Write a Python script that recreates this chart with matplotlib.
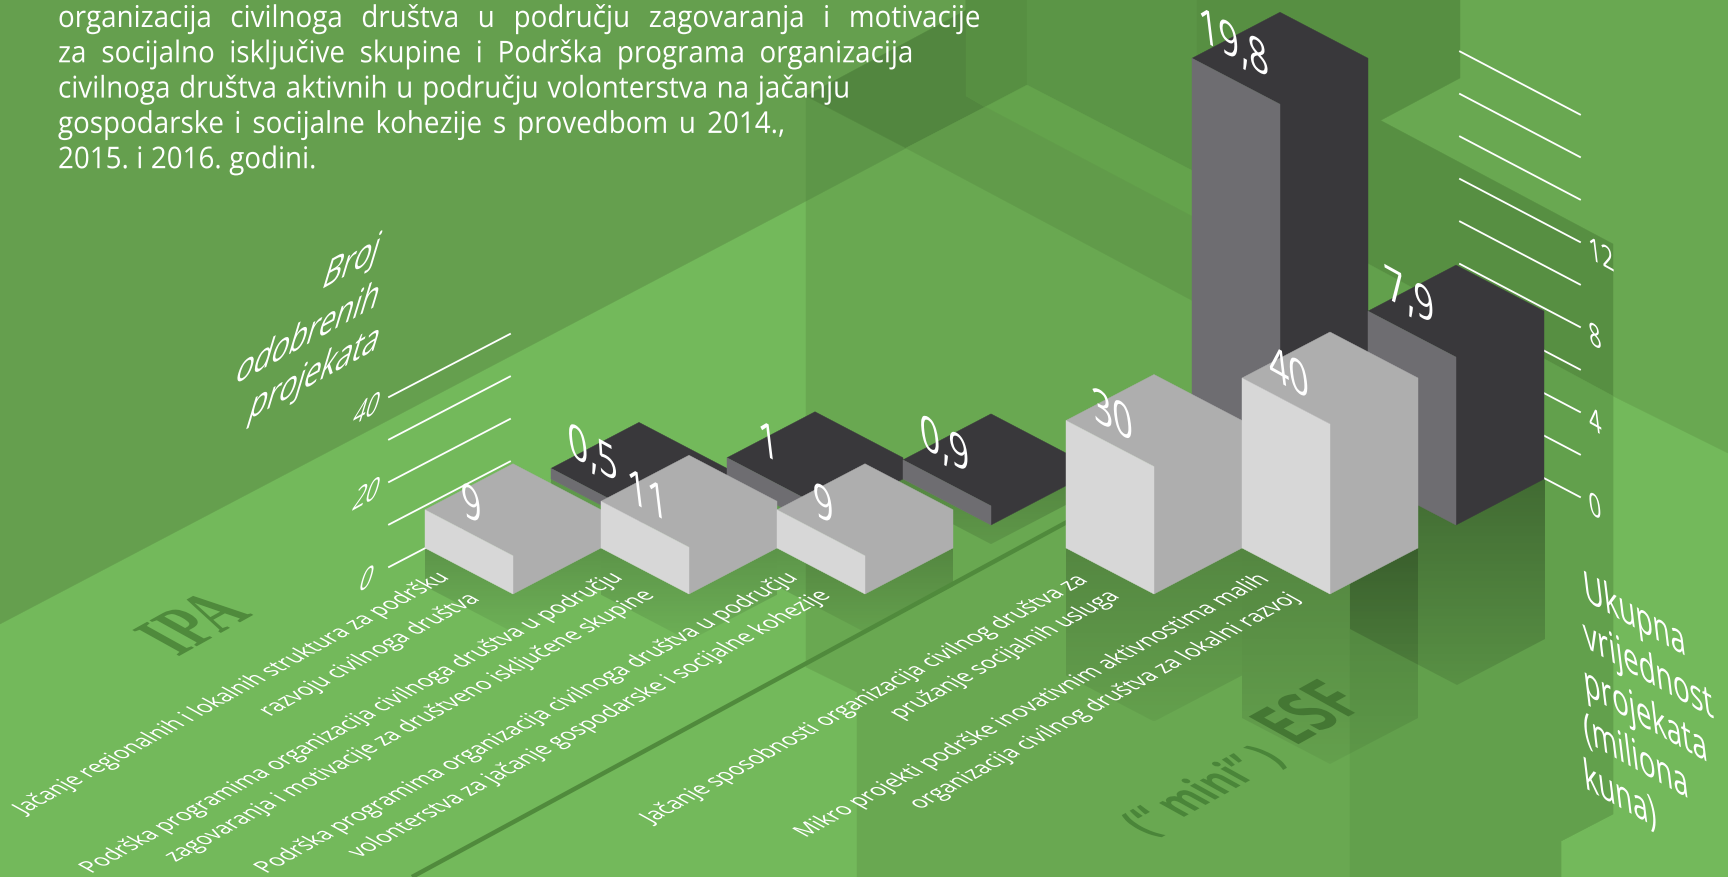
import numpy as np
import matplotlib
matplotlib.use("Agg")
import matplotlib.pyplot as plt
from matplotlib.patches import Polygon
from matplotlib.patheffects import AbstractPathEffect
from matplotlib.transforms import Affine2D

# data
programi = ["IPA 1", "IPA 2", "IPA 3", "ESF 1", "ESF 2"]
broj_projekata = [9, 11, 9, 30, 40]
vrijednost = [0.5, 1, 0.9, 19.8, 7.9]
broj_labele = ["9", "11", "9", "30", "40"]
vrijednost_labele = ["0,5", "1", "0,9", "19,8", "7,9"]
broj_ticks = [0, 10, 20, 30, 40]
broj_ticklabels = ["0", "", "20", "", "40"]
vrijednost_ticks = [0, 2, 4, 6, 8, 10, 12, 14, 16, 18]
vrijednost_ticklabels = ["0", "", "4", "", "8", "", "12", "", "", ""]

uvod = [
    "organizacija civilnoga društva u području zagovaranja i motivacije",
    "za socijalno isključive skupine i Podrška programa organizacija",
    "civilnoga društva aktivnih u području volonterstva na jačanju",
    "gospodarske i socijalne kohezije s provedbom u 2014.,",
    "2015. i 2016. godini.",
]
uvod_kraj = [980, 913, 850, 785, 316]

opisi = [
    ("Jačanje regionalnih i lokalnih struktura za podršku", 232, 694),
    ("razvoju civilnoga društva", 370, 656),
    ("Podrška programima organizacija civilnoga društva u području", 352, 724),
    ("zagovaranja i motivacije za društveno isključene skupine", 410, 727),
    ("Podrška programima organizacija civilnoga društva u području", 527, 724),
    ("volonterstva za jačanje gospodarske i socijalne kohezije", 590, 725),
    ("Jačanje sposobnosti organizacija civilnog društva za", 865, 700),
    ("pružanje socijalnih usluga", 1005, 656),
    ("Mikro projekti podrške inovativnim aktivnostima malih", 1032, 707),
    ("organizacija civilnog društva za lokalni razvoj", 1105, 702),
]

FONT = "Open Sans"
BASE = "#73b95b"
W, H = 1728, 878

# scale of the drawing, pixels per unit
PX_PROJEKT = 4.25
PX_KUNA = 21.25
SLOPE_W, SLOPE_H = 88, 46


class Skew(AbstractPathEffect):
    # bends a rotated text so that it lies on a face of the isometric box
    def __init__(self, angle, u, v, anchor):
        super().__init__()
        a = np.radians(angle)
        rot_inv = np.array([[np.cos(a), np.sin(a)], [-np.sin(a), np.cos(a)]])
        self.L = np.column_stack([u, v]) @ rot_inv
        self.anchor = anchor

    def draw_path(self, renderer, gc, tpath, affine, rgbFace=None):
        m = affine.get_matrix()
        p = ax.transData.transform(self.anchor)
        new = np.eye(3)
        new[:2, :2] = self.L @ m[:2, :2]
        new[:2, 2] = p + self.L @ (m[:2, 2] - p)
        renderer.draw_path(gc, tpath, Affine2D(new), rgbFace)


ANG = 29
c, s = np.cos(np.radians(ANG)), np.sin(np.radians(ANG))
FLOOR = ((c, s), (-c, s))
LEFT_WALL = ((c, s), (0.3, 1))
RIGHT_WALL = ((c, -s), (-0.12, 1))
FLAT = ((1, 0), (0, 1))


def iso_text(x, y, txt, face, sv=1.0, **kw):
    u, v = face
    v = (v[0] * sv, v[1] * sv)
    angle = np.degrees(np.arctan2(u[1], u[0]))
    t = ax.text(x, y, txt, rotation=angle, rotation_mode="anchor", **kw)
    t.set_path_effects([Skew(angle, u, v, (x, y))])
    return t


def poly(points, color, z=1):
    ax.add_patch(Polygon(points, closed=True, fc=color, ec=color, lw=0.3, zorder=z))


def shadow(points, a_top, a_bot, z=2):
    pts = np.array(points, dtype=float)
    x0, x1, y0, y1 = pts[:, 0].min(), pts[:, 0].max(), pts[:, 1].min(), pts[:, 1].max()
    img = np.zeros((64, 2, 4))
    img[:, :, 3] = np.linspace(a_top, a_bot, 64)[:, None]
    im = ax.imshow(img, extent=(x0, x1, y1, y0), aspect="auto", zorder=z, interpolation="bilinear")
    im.set_clip_path(Polygon(pts, closed=True, transform=ax.transData))


def box(x, base, h, c_left, c_top, z):
    # top and right face have one colour, so they are one shape
    w, d = SLOPE_W, SLOPE_H
    poly([(x, base - h), (x + w, base - h - d), (x + 2 * w, base - h), (x + 2 * w, base),
          (x + w, base + d), (x + w, base - h + d)], c_top, z)
    poly([(x, base - h), (x + w, base - h + d), (x + w, base + d), (x, base)], c_left, z)


def box_shadow(x, base, h, a_top, a_bot):
    w, d = SLOPE_W, SLOPE_H
    shadow([(x, base), (x + w, base + d), (x + 2 * w, base), (x + 2 * w, base + h),
            (x + w, base + d + h), (x, base + h)], a_top, a_bot)


fig = plt.figure(figsize=(W / 100, H / 100), dpi=100, facecolor=BASE)
ax = fig.add_axes([0, 0, 1, 1])
ax.axis("off")

# background planes
poly([(806, 0), (W, 0), (W, 454), (1613, 397), (1613, 815), (1561, 842), (1561, H),
      (857, H), (857, 693), (806, 668)], "#69a851")
poly([(0, 0), (806, 0), (806, 202), (0, 625)], "#659f4e")
poly([(806, 0), (987, 0), (806, 97)], "#659f4e")
poly([(806, 97), (906, 149), (806, 202)], "#5d9648")
poly([(806, 97), (987, 0), (966, 0), (966, 97), (985, 108), (906, 149)], "#52863f")
poly([(966, 0), (1027, 0), (1027, 86), (985, 108), (966, 97)], "#578f42")
poly([(987, 0), (1027, 0), (1027, 86), (985, 108)], "#578f42")
poly([(1027, 0), (1197, 0), (1197, 174), (1027, 86)], "#5b9546")
poly([(1197, 0), (1460, 0), (1460, 79), (1280, 175), (1197, 174)], "#578f42")
poly([(1027, 86), (1197, 174), (1197, 220), (985, 108)], "#64a34c")
poly([(906, 149), (1197, 304), (1197, 220), (985, 108)], "#619b4a")
poly([(1280, 68), (1613, 245), (1613, 397), (1280, 218)], "#578f42")
poly([(1350, 255), (1613, 397), (1613, 815), (1561, 842), (1561, H), (1350, H)], "#62a04c")

# positions on the floor, the ESF group sits apart
light_x = [425 + 176 * i + (113 if i >= 3 else 0) for i in range(len(programi))]
dark_x = [x + 126 for x in light_x]
LIGHT_BASE, DARK_BASE = 549, 480

# shadows on the floor
for x, v in zip(light_x, broj_projekata):
    box_shadow(x, LIGHT_BASE, v * PX_PROJEKT, 0.2, 0.05)
for x, v in zip(dark_x[:3], vrijednost[:3]):
    box_shadow(x, DARK_BASE, v * PX_KUNA, 0.2, 0.1)
shadow([(1350, 480), (1545, 480), (1545, 640), (1457, 686), (1369, 640), (1350, 630)], 0.33, 0.1)

# dividing line
ax.plot([412, 1067], [878, 523], color="#508a3c", lw=3.2, solid_capstyle="butt", zorder=3)

# axes
for v in broj_ticks:
    y = 568 - v * PX_PROJEKT
    ax.plot([389, 510], [y, y - 63], color="white", lw=1.3, zorder=4)
for v in vrijednost_ticks:
    y = 498 - v * PX_KUNA
    ax.plot([1460, 1580], [y - 63, y], color="white", lw=1.3, zorder=4)

# bars
for x, v in zip(dark_x, vrijednost):
    box(x, DARK_BASE, v * PX_KUNA, "#6e6d71", "#39383b", 5)
for x, v in zip(light_x, broj_projekata):
    box(x, LIGHT_BASE, v * PX_PROJEKT, "#d7d7d7", "#aeaeae", 6)

# value labels
for x, v, lab in zip(dark_x, vrijednost, vrijednost_labele):
    iso_text(x + 42, DARK_BASE - v * PX_KUNA - 12, lab, RIGHT_WALL, sv=1.22, color="white", family=FONT,
             fontsize=29, ha="center", va="center", zorder=8)
for x, v, lab in zip(light_x, broj_projekata, broj_labele):
    iso_text(x + 47, LIGHT_BASE - v * PX_PROJEKT - 2, lab, RIGHT_WALL, sv=1.22, color="white", family=FONT,
             fontsize=29, ha="center", va="center", zorder=8)

# tick labels
for v, lab in zip(broj_ticks, broj_ticklabels):
    if lab:
        iso_text(366, 582 - v * PX_PROJEKT, lab, LEFT_WALL, sv=1.3, color="white", family=FONT,
                 fontsize=18, ha="center", va="center", zorder=8)
for v, lab in zip(vrijednost_ticks, vrijednost_ticklabels):
    if lab:
        iso_text(1589, 506 - v * PX_KUNA, lab, RIGHT_WALL, sv=1.3, color="white", family=FONT,
                 fontsize=18, ha="left", va="center", zorder=8)

# axis titles
for y, lab in zip([260, 307, 350], ["Broj", "odobrenih", "projekata"]):
    iso_text(376, y, lab, LEFT_WALL, sv=1.25, color="white", family=FONT, fontsize=24,
             ha="right", va="baseline", zorder=8)
for i, lab in enumerate(["Ukupna", "vrijednost", "projekata", "(miliona", "kuna)"]):
    iso_text(1585, 601 + i * 47, lab, RIGHT_WALL, sv=1.35, color="white", family=FONT, fontsize=23,
             ha="left", va="baseline", zorder=8)

# floor labels
for txt, x, y in opisi:
    iso_text(x, y, txt, FLOOR, sv=1.15, color="white", family=FONT, fontsize=15.1, ha="center", va="center", zorder=8)
iso_text(198, 627, "IPA", FLOOR, sv=1.55, color="#4f8a3c", family="Liberation Serif", fontsize=38,
         weight="bold", ha="center", va="center", zorder=8)
iso_text(1314, 717, "ESF", FLOOR, sv=1.55, color="#447733", family=FONT, fontsize=37,
         weight="bold", ha="center", va="center", zorder=8)
iso_text(1206, 793, "(“ mini” )", FLOOR, sv=1.45, color="#4a8539", family=FONT, fontsize=26,
         weight="bold", ha="center", va="center", zorder=8)

ax.set_xlim(0, W)
ax.set_ylim(H, 0)

# intro text, justified by hand
renderer = fig.canvas.get_renderer()
for i, (line, end) in enumerate(zip(uvod, uvod_kraj)):
    words = line.split(" ")
    ws = []
    for w in words:
        t = ax.text(0, 0, w, family=FONT, fontsize=20)
        ws.append(t.get_window_extent(renderer).width)
        t.remove()
    gap = (end - 58 - sum(ws)) / max(len(words) - 1, 1)
    x = 58
    for w, wd in zip(words, ws):
        iso_text(x, 28 + i * 35.3, w, FLAT, sv=1.08, color="white", family=FONT, fontsize=20,
                 ha="left", va="baseline", zorder=8)
        x += wd + gap

fig.savefig("out.png", dpi=100, facecolor=BASE)
